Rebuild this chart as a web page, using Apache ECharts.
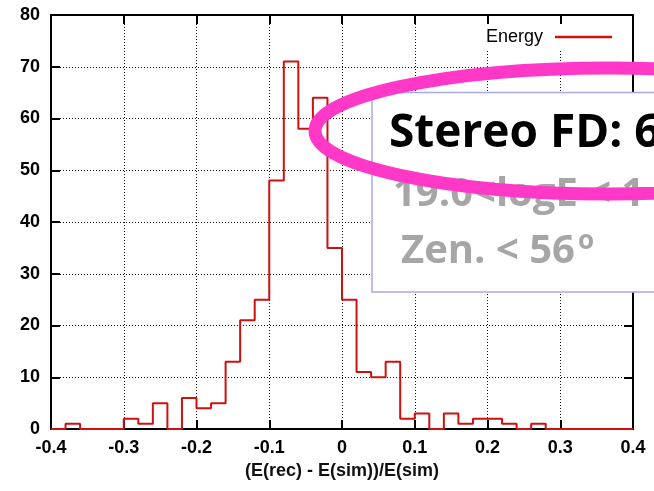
<!DOCTYPE html>
<html>
<head>
<meta charset="utf-8">
<script src="https://cdn.jsdelivr.net/npm/echarts@6/dist/echarts.min.js"></script>
<style>
html,body{margin:0;padding:0;background:#fff;}
#chart{width:654px;height:491px;}
</style>
</head>
<body>
<div id="chart"></div>
<script>
// Histogram bin edges (left edges plus final right edge)
var binEdges = [-0.40,-0.38,-0.36,-0.34,-0.32,-0.30,-0.28,-0.26,-0.24,-0.22,
                -0.20,-0.18,-0.16,-0.14,-0.12,-0.10,-0.08,-0.06,-0.04,-0.02,
                 0.00, 0.02, 0.04, 0.06, 0.08, 0.10, 0.12, 0.14, 0.16, 0.18,
                 0.20, 0.22, 0.24, 0.26, 0.28, 0.30, 0.32, 0.34, 0.36, 0.38, 0.40];
// Counts per bin (Energy)
var energyCounts = [0,1,0,0,0,2,1,5,0,6,
                    4,5,13,21,25,48,71,58,64,35,
                    25,11,10,13,2,3,0,3,1,2,
                    2,1,0,1,0,0,0,0,0,0];
var xTickValues = [-0.4,-0.3,-0.2,-0.1,0,0.1,0.2,0.3,0.4];
var xTickLabels = ['-0.4','-0.3','-0.2','-0.1','0','0.1','0.2','0.3','0.4'];
var yTickLabels = ['0','10','20','30','40','50','60','70','80'];
var seriesName = 'Energy';
var xAxisTitle = '(E(rec) - E(sim))/E(sim)';
var boxLine1 = 'Stereo FD: 6';
var boxLine2 = '19.0<logE < 1';
var boxLine3 = 'Zen. < 56';
var boxSup = 'o';

var stepData = [];
for (var i = 0; i < energyCounts.length; i++) stepData.push([binEdges[i], energyCounts[i]]);
stepData.push([binEdges[binEdges.length - 1], energyCounts[energyCounts.length - 1]]);

function xLabel(v) {
  for (var k = 0; k < xTickValues.length; k++) {
    if (Math.abs(xTickValues[k] - v) < 1e-6) return xTickLabels[k];
  }
  return '';
}

var chart = echarts.init(document.getElementById('chart'), null, {renderer: 'canvas'});
var labelFont = {fontFamily: 'Liberation Sans', fontWeight: 'bold', fontSize: 18, color: '#000'};
var option = {
  animation: false,
  backgroundColor: '#fff',
  grid: {left: 51, top: 15, right: 21, bottom: 62, show: true, borderColor: '#000', borderWidth: 2, backgroundColor: 'transparent'},
  legend: {
    show: true,
    data: [seriesName],
    right: 29, top: 24,
    align: 'right',
    icon: 'rect',
    itemWidth: 57, itemHeight: 2.5,
    padding: [4, 13, 4, 12],
    backgroundColor: '#fff',
    textStyle: {fontFamily: 'Liberation Sans', fontSize: 18, color: '#000', padding: [0, 7, 0, 0]}
  },
  xAxis: [{
    type: 'value', min: -0.4, max: 0.4, interval: 0.1,
    position: 'bottom',
    name: xAxisTitle, nameLocation: 'middle', nameGap: 31,
    nameTextStyle: {fontFamily: 'Liberation Sans', fontWeight: 'bold', fontSize: 18, color: '#111'},
    axisLine: {show: true, onZero: false, lineStyle: {color: '#000', width: 2}},
    axisTick: {show: true, inside: true, length: 9, lineStyle: {color: '#000', width: 2}},
    axisLabel: Object.assign({margin: 10, formatter: xLabel}, labelFont),
    splitLine: {show: true, lineStyle: {color: '#111', width: 1, type: [1, 2]}}
  }, {
    type: 'value', min: -0.4, max: 0.4, interval: 0.1,
    position: 'top',
    axisLine: {show: true, onZero: false, lineStyle: {color: '#000', width: 2}},
    axisTick: {show: true, inside: true, length: 9, lineStyle: {color: '#000', width: 2}},
    axisLabel: {show: false},
    splitLine: {show: false}
  }],
  yAxis: [{
    type: 'value', min: 0, max: 80, interval: 10,
    position: 'left',
    axisLine: {show: true, onZero: false, lineStyle: {color: '#000', width: 2}},
    axisTick: {show: true, inside: true, length: 9, lineStyle: {color: '#000', width: 2}},
    axisLabel: Object.assign({margin: 11, formatter: function (v) { return yTickLabels[Math.round(v / 10)]; }}, labelFont),
    splitLine: {show: true, lineStyle: {color: '#111', width: 1, type: [1, 2]}}
  }, {
    type: 'value', min: 0, max: 80, interval: 10,
    position: 'right',
    axisLine: {show: true, onZero: false, lineStyle: {color: '#000', width: 2}},
    axisTick: {show: true, inside: true, length: 9, lineStyle: {color: '#000', width: 2}},
    axisLabel: {show: false},
    splitLine: {show: false}
  }],
  series: [{
    name: seriesName,
    type: 'line',
    step: 'end',
    xAxisIndex: 0, yAxisIndex: 0,
    data: stepData,
    showSymbol: false,
    symbol: 'none',
    lineStyle: {color: '#cc1111', width: 2},
    itemStyle: {color: '#cc1111'},
    z: 5
  }],
  graphic: [
    {type: 'rect', z: 100, shape: {x: 372, y: 92.5, width: 320, height: 199.5},
     style: {fill: '#fff', stroke: '#a8a8ea', lineWidth: 1.5}},
    {type: 'text', z: 101, style: {x: 389, y: 134, text: boxLine1, fontFamily: 'Open Sans', fontWeight: 'bold', fontSize: 46, fill: '#000', align: 'left', verticalAlign: 'middle'}},
    {type: 'text', z: 101, style: {x: 393, y: 195, text: boxLine2, fontFamily: 'Open Sans', fontWeight: 'bold', fontSize: 40, fill: '#a6a6a6', align: 'left', verticalAlign: 'middle'}},
    {type: 'text', z: 101, style: {x: 401, y: 252, text: boxLine3, fontFamily: 'Open Sans', fontWeight: 'bold', fontSize: 40, fill: '#a6a6a6', align: 'left', verticalAlign: 'middle'}},
    {type: 'text', z: 101, style: {x: 578, y: 242, text: boxSup, fontFamily: 'Open Sans', fontWeight: 'bold', fontSize: 26, fill: '#a6a6a6', align: 'left', verticalAlign: 'middle'}},
    {type: 'ellipse', z: 102, shape: {cx: 610, cy: 131, rx: 295, ry: 63},
     style: {fill: 'none', stroke: '#ff38c8', lineWidth: 13}}
  ]
};
chart.setOption(option);
</script>
</body>
</html>
